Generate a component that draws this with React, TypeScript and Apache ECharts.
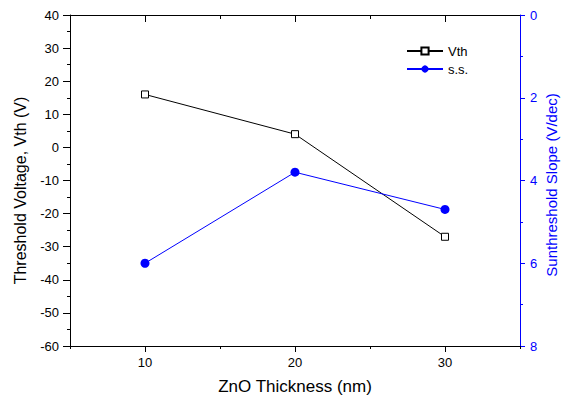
import React, { useEffect, useRef } from "react";
import * as echarts from "echarts";

const thickness = [10, 20, 30];
const vthValues = [16, 4, -27];
const ssValues = [6.0, 3.8, 4.7];
const xMajorTicks = [10, 20, 30];
const xMinorBottom = [5, 15, 25, 35];
const xMinorTop = [15, 25];

const FONT = "Liberation Sans, Arial, sans-serif";
const BLUE = "#0000ff";

export default function App() {
  const ref = useRef<HTMLDivElement>(null);
  useEffect(() => {
    if (!ref.current) return;
    const chart = echarts.init(ref.current, null, { renderer: "svg" });
    const axisLineBlack = { show: true, onZero: false, lineStyle: { color: "#000", width: 1 } };
    const option: any = {
      animation: false,
      backgroundColor: "#fff",
      textStyle: { fontFamily: FONT },
      grid: { left: 70, right: 41, top: 15, bottom: 57, containLabel: false, outerBoundsMode: "none" },
      legend: {
        orient: "vertical",
        left: 401,
        top: 39,
        itemWidth: 36,
        itemHeight: 9,
        itemGap: 4,
        textStyle: { fontFamily: FONT, fontSize: 13, color: "#000", lineHeight: 14 },
        data: ["Vth", "s.s."],
      },
      xAxis: [
        {
          type: "value",
          position: "bottom",
          min: 5,
          max: 35,
          axisLine: axisLineBlack,
          axisTick: { show: true, inside: false, length: 6, customValues: xMajorTicks, lineStyle: { color: "#000" } },
          axisLabel: { show: true, customValues: xMajorTicks, margin: 10, fontSize: 13, color: "#000", fontFamily: FONT },
          splitLine: { show: false },
          name: "ZnO Thickness (nm)",
          nameLocation: "middle",
          nameGap: 32,
          nameMoveOverlap: false,
          nameTextStyle: { fontSize: 17, color: "#000", fontFamily: FONT },
        },
        {
          type: "value",
          position: "bottom",
          min: 5,
          max: 35,
          axisLine: { show: false, onZero: false },
          axisTick: { show: true, inside: false, length: 3, customValues: xMinorBottom, lineStyle: { color: "#000" } },
          axisLabel: { show: false },
          splitLine: { show: false },
        },
        {
          type: "value",
          position: "top",
          min: 5,
          max: 35,
          axisLine: axisLineBlack,
          axisTick: { show: true, inside: true, length: 7, customValues: xMajorTicks, lineStyle: { color: "#000" } },
          axisLabel: { show: false },
          splitLine: { show: false },
        },
        {
          type: "value",
          position: "top",
          min: 5,
          max: 35,
          axisLine: { show: false, onZero: false },
          axisTick: { show: true, inside: true, length: 4, customValues: xMinorTop, lineStyle: { color: "#000" } },
          axisLabel: { show: false },
          splitLine: { show: false },
        },
      ],
      yAxis: [
        {
          type: "value",
          position: "left",
          min: -60,
          max: 40,
          interval: 10,
          axisLine: axisLineBlack,
          axisTick: { show: true, inside: false, length: 7, lineStyle: { color: "#000" } },
          minorTick: { show: true, splitNumber: 2, length: 3, lineStyle: { color: "#000" } },
          axisLabel: { margin: 11, fontSize: 13, color: "#000", fontFamily: FONT },
          splitLine: { show: false },
          minorSplitLine: { show: false },
          name: "Threshold Voltage, Vth (V)",
          nameLocation: "middle",
          nameGap: 42,
          nameMoveOverlap: false,
          nameTextStyle: { fontSize: 16, color: "#000", fontFamily: FONT, padding: [0, 20, 0, 0] },
        },
        {
          type: "value",
          position: "right",
          inverse: true,
          min: 0,
          max: 8,
          interval: 2,
          axisLine: { show: true, onZero: false, lineStyle: { color: BLUE, width: 1 } },
          axisTick: { show: true, inside: false, length: 5, lineStyle: { color: BLUE } },
          minorTick: { show: true, splitNumber: 2, length: 3, lineStyle: { color: BLUE } },
          axisLabel: { margin: 10, fontSize: 13, color: BLUE, fontFamily: FONT },
          splitLine: { show: false },
          minorSplitLine: { show: false },
          name: "Sunthreshold Slope (V/dec)",
          nameLocation: "middle",
          nameGap: 24,
          nameMoveOverlap: false,
          nameTextStyle: { fontSize: 15, lineHeight: 15, color: BLUE, fontFamily: FONT, padding: [0, 9, 0, 0] },
        },
      ],
      series: [
        {
          name: "Vth",
          type: "line",
          xAxisIndex: 0,
          yAxisIndex: 0,
          data: thickness.map((x, i) => [x, vthValues[i]]),
          symbol: "rect",
          symbolSize: 7,
          showAllSymbol: true,
          lineStyle: { color: "#000", width: 1 },
          itemStyle: { color: "#fff", borderColor: "#000", borderWidth: 1 },
        },
        {
          name: "s.s.",
          type: "line",
          xAxisIndex: 0,
          yAxisIndex: 1,
          data: thickness.map((x, i) => [x, ssValues[i]]),
          symbol: "circle",
          symbolSize: 9,
          showAllSymbol: true,
          lineStyle: { color: BLUE, width: 1 },
          itemStyle: { color: BLUE, borderColor: BLUE, borderWidth: 0 },
        },
      ],
    };
    chart.setOption(option);
    return () => chart.dispose();
  }, []);
  return (
    <div
      ref={ref}
      style={{ position: "fixed", left: 0, top: 0, width: 561, height: 403 }}
    />
  );
}
